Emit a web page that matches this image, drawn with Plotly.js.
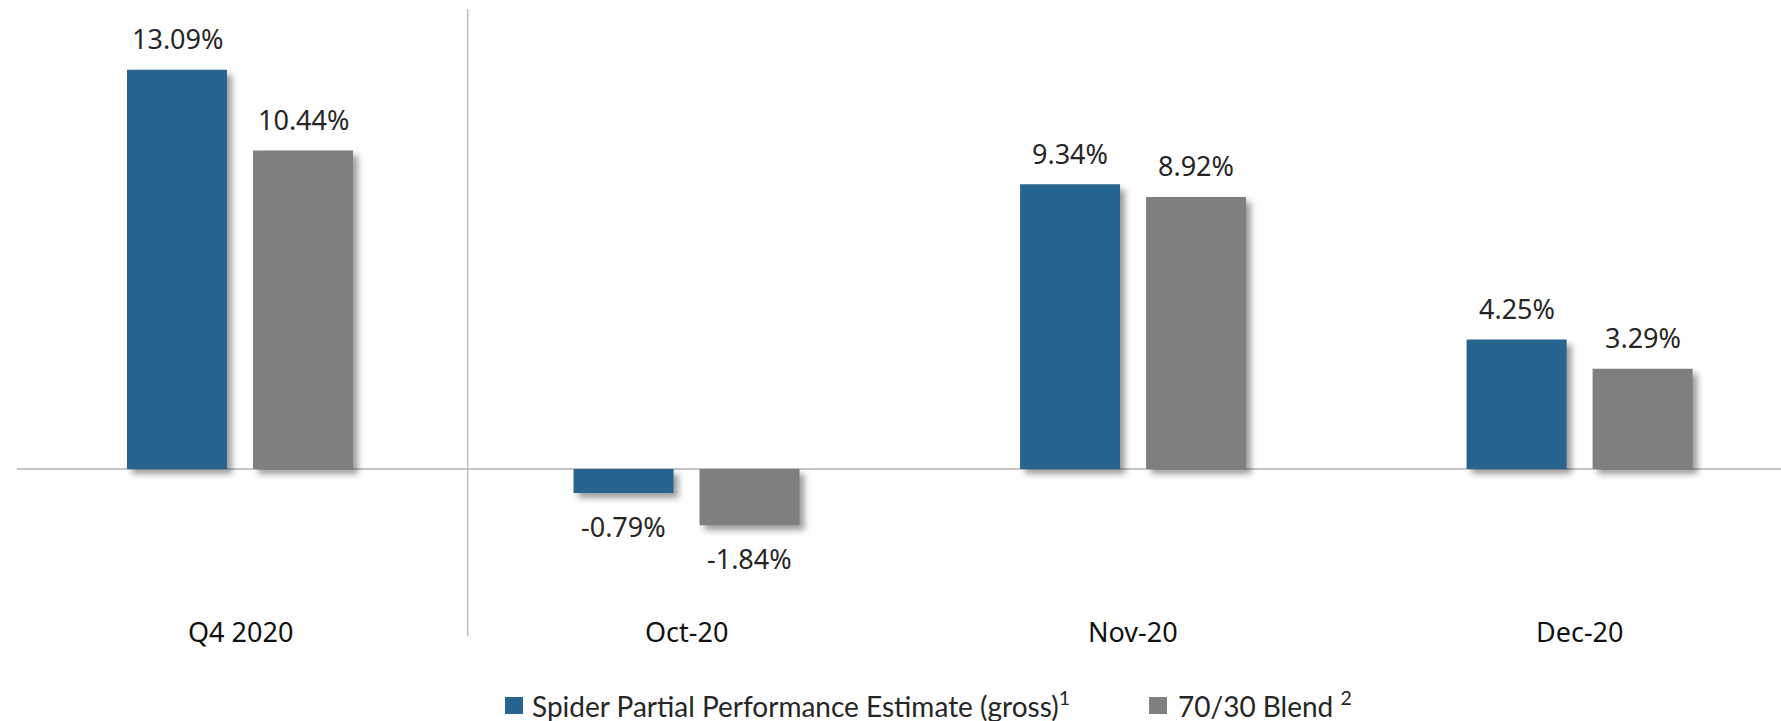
<!DOCTYPE html>
<html>
<head>
<meta charset="utf-8">
<script src="https://cdn.plot.ly/plotly-3.0.1.min.js"></script>
<style>
  html, body { margin: 0; padding: 0; background: #fff; }
  #chart { width: 1781px; height: 721px; }
  .barlayer .point path { filter: drop-shadow(5px 5px 3px rgba(0,0,0,0.38)); }
</style>
</head>
<body>
<div id="chart"></div>
<script>
const categories = ['Q4 2020', 'Oct-20', 'Nov-20', 'Dec-20'];
const spiderValues = [13.09, -0.79, 9.34, 4.25];
const blendValues = [10.44, -1.84, 8.92, 3.29];
const seriesNames = ['Spider Partial Performance Estimate (gross)', '70/30 Blend'];
const seriesNotes = ['1', '2'];
const seriesColors = ['#276490', '#7f7f7f'];

const barWidth = 0.224;
const offsets = [-0.2531, 0.0291];
const labelShift = [-63, 63];

const traces = [spiderValues, blendValues].map((vals, i) => ({
  type: 'bar',
  x: categories,
  y: vals,
  name: seriesNames[i],
  width: barWidth,
  offset: offsets[i],
  marker: { color: seriesColors[i], line: { width: 0 } },
  hoverinfo: 'skip'
}));

const annotations = [];
[spiderValues, blendValues].forEach((vals, i) => {
  vals.forEach((v, j) => {
    annotations.push({
      x: categories[j], y: v, xref: 'x', yref: 'y',
      text: v.toFixed(2) + '%',
      showarrow: false,
      xshift: labelShift[i],
      yshift: v >= 0 ? 31 : -33,
      yanchor: 'middle', xanchor: 'center',
      font: { family: 'Noto Sans', size: 27, color: '#262626' }
    });
  });
});
categories.forEach(c => {
  annotations.push({
    x: c, y: 0.0064, xref: 'x', yref: 'paper',
    text: c, showarrow: false, yanchor: 'middle', xanchor: 'center',
    font: { family: 'Noto Sans', size: 27, color: '#111111' }
  });
});

// custom legend (paper coordinates)
const legendSquares = [[0.27664, 0.28685], [0.64172, 0.65193]];
const legendTextX = [0.29082, 0.65703];
const shapes = [{
  type: 'line', xref: 'x', yref: 'paper', x0: 0.51, x1: 0.51, y0: 0, y1: 1,
  line: { color: '#bfbfbf', width: 1.5 }
}];
seriesNames.forEach((n, i) => {
  shapes.push({
    type: 'rect', xref: 'paper', yref: 'paper',
    x0: legendSquares[i][0], x1: legendSquares[i][1], y0: -0.1244, y1: -0.0973,
    fillcolor: seriesColors[i], line: { width: 0 }
  });
  annotations.push({
    x: legendTextX[i], y: -0.110, xref: 'paper', yref: 'paper',
    text: n + (i === 1 ? ' ' : '') + '<sup>' + seriesNotes[i] + '</sup>',
    showarrow: false, xanchor: 'left', yanchor: 'middle',
    font: { family: 'Lato', size: 28, color: '#262626' }
  });
});

const layout = {
  width: 1781, height: 721,
  margin: { l: 17, r: 0, t: 9, b: 85, pad: 0, autoexpand: false },
  paper_bgcolor: '#ffffff', plot_bgcolor: '#ffffff',
  showlegend: false,
  xaxis: {
    type: 'category', range: [-0.4994, 3.451],
    showticklabels: false, showgrid: false, zeroline: false, showline: false, ticks: ''
  },
  yaxis: {
    range: [-5.475, 15.082],
    showticklabels: false, showgrid: false, showline: false, ticks: '',
    zeroline: true, zerolinecolor: '#c6c6c6', zerolinewidth: 2
  },
  shapes: shapes,
  annotations: annotations
};

Plotly.newPlot('chart', traces, layout, { displayModeBar: false, staticPlot: true });
</script>
</body>
</html>
